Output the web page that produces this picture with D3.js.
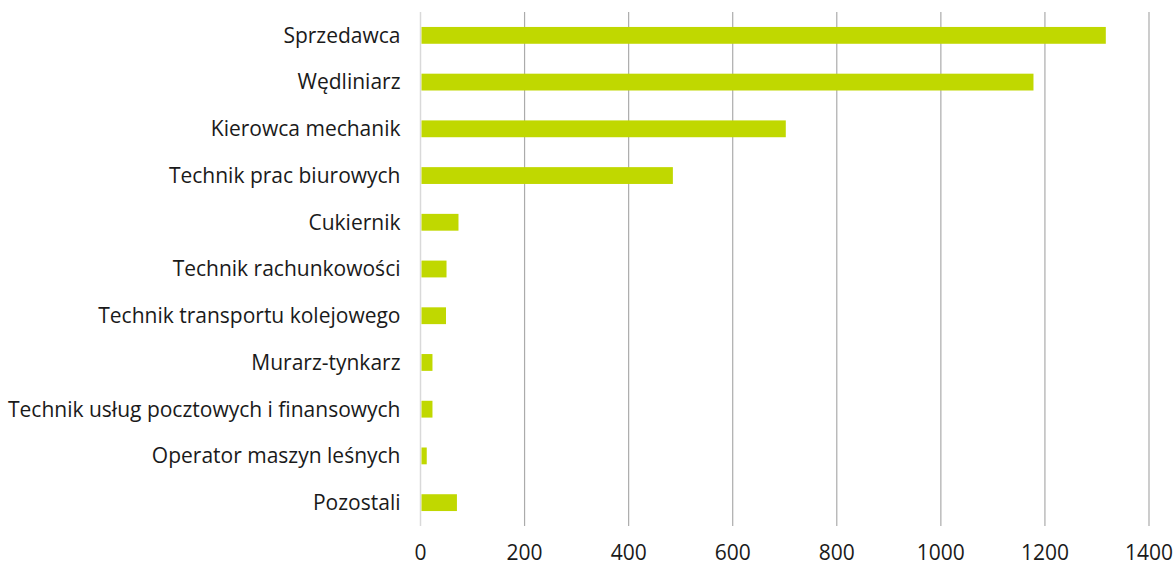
<!DOCTYPE html>
<html>
<head>
<meta charset="utf-8">
<script src="https://cdn.jsdelivr.net/npm/d3@7"></script>
<style>
  body { margin: 0; background: #fff; }
  svg text { font-family: "Open Sans", "Noto Sans", sans-serif; fill: #1a1a1a; }
</style>
</head>
<body>
<div id="chart-area"></div>
<script>
// categories top to bottom
var categories = [
    "Sprzedawca",
    "Wędliniarz",
    "Kierowca mechanik",
    "Technik prac biurowych",
    "Cukiernik",
    "Technik rachunkowości",
    "Technik transportu kolejowego",
    "Murarz-tynkarz",
    "Technik usług pocztowych i finansowych",
    "Operator maszyn leśnych",
    "Pozostali"
]
var values = [1317, 1178, 702, 485, 73, 50, 49, 23, 23, 12, 70]
var xTicks = [0, 200, 400, 600, 800, 1000, 1200, 1400]

var svgWidth = 1176
var svgHeight = 565
var margin = {top: 12, right: 27, bottom: 39, left: 420.5}
var chartWidth = svgWidth - margin.left - margin.right
var chartHeight = svgHeight - margin.top - margin.bottom

var data = categories.map((c, i) => ({name: c, value: values[i]}))

var svg = d3.select("#chart-area").append("svg")
    .attr("width", svgWidth)
    .attr("height", svgHeight)

var chartGroup = svg.append("g")
    .attr("transform", `translate(${margin.left},${margin.top})`)

var xScale = d3.scaleLinear()
    .domain([0, 1400])
    .range([0, chartWidth])

var yScale = d3.scaleBand()
    .domain(categories)
    .range([0, chartHeight])
    .paddingInner(0.64)
    .paddingOuter(0.32)

// gridlines
chartGroup.selectAll(".grid")
    .data(xTicks)
    .enter().append("line")
    .attr("class", "grid")
    .attr("x1", d => xScale(d))
    .attr("x2", d => xScale(d))
    .attr("y1", 0)
    .attr("y2", chartHeight)
    .attr("stroke", d => d === 0 ? "#d9d9d9" : "#ababab")
    .attr("stroke-width", d => d === 0 ? 1.5 : 1.2)

chartGroup.selectAll(".bar")
    .data(data)
    .enter().append("rect")
    .attr("class", "bar")
    .attr("x", xScale(0) + 1)
    .attr("y", d => yScale(d.name))
    .attr("width", d => xScale(d.value) - xScale(0) - 1)
    .attr("height", yScale.bandwidth())
    .attr("fill", "#c0d800")

// category labels
chartGroup.selectAll(".cat")
    .data(data)
    .enter().append("text")
    .attr("class", "cat")
    .attr("text-anchor", "end")
    .attr("font-size", "21px")
    .attr("dy", "0.35em")
    .attr("x", -20)
    .attr("y", d => yScale(d.name) + yScale.bandwidth() / 2)
    .text(d => d.name)

// x tick labels
chartGroup.selectAll(".tick-label")
    .data(xTicks)
    .enter().append("text")
    .attr("class", "tick-label")
    .attr("text-anchor", "middle")
    .attr("font-size", "21px")
    .attr("x", d => xScale(d))
    .attr("y", chartHeight + 34)
    .text(d => d)
</script>
</body>
</html>
